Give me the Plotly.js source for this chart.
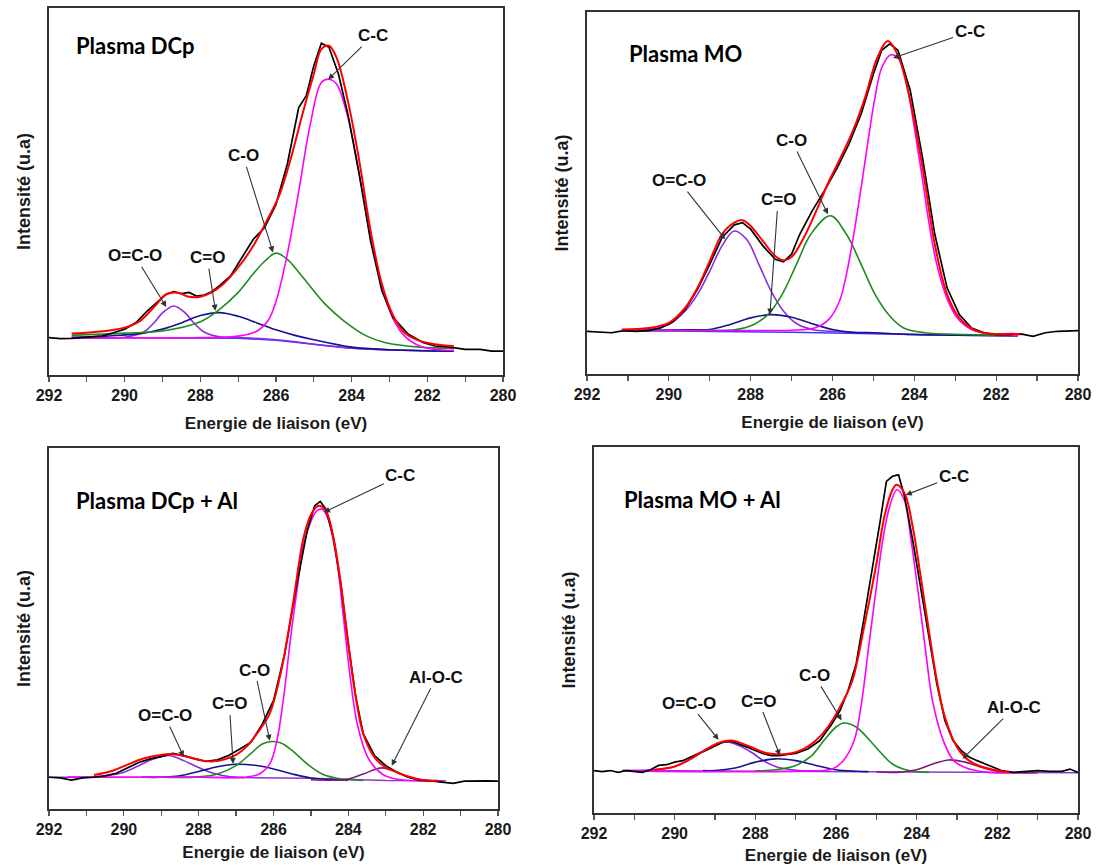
<!DOCTYPE html>
<html>
<head>
<meta charset="utf-8">
<script src="https://cdn.plot.ly/plotly-3.0.1.min.js"></script>
<style>html,body{margin:0;padding:0;background:#fff}#chart{width:1099px;height:865px}</style>
</head>
<body>
<div id="chart"></div>
<script>
// ---------- axis ----------
const tickVals = [292, 290, 288, 286, 284, 282, 280];
const tickText = ['292', '290', '288', '286', '284', '282', '280'];
const xTitle = 'Energie de liaison (eV)';
const yTitle = 'Intensité (u.a)';
const panelNames = ['Plasma DCp', 'Plasma MO', 'Plasma DCp + Al', 'Plasma MO + Al'];

// ---------- Panel 1 : Plasma DCp ----------
const dcp_raw_E = [292,291.7,291.4,291,290.6,290.3,290,289.7,289.4,289.1,288.9,288.7,288.5,288.3,288.1,287.9,287.7,287.5,287.2,286.9,286.6,286.3,286,285.7,285.4,285.2,285,284.8,284.6,284.35,284.1,283.8,283.5,283.2,282.9,282.5,282.1,281.8,281.4,281,280.6,280.3,280];
const dcp_raw_I = [10.2,9.9,10,10.4,10.6,11.5,12.5,14.3,17.5,20.2,22,22.7,22.2,22.5,21.5,21.8,22.7,24.3,27,32,37,40.2,46.5,57.5,72.9,76.1,84.3,90.4,89.3,82,71.1,54.7,36.5,22.9,15.6,11.1,8.8,7.9,7.6,7,7,6.5,6.5];
const dcp_env_E = [291.4,290.5,290,289.6,289.2,288.9,288.6,288.3,288,287.7,287.4,287,286.6,286.2,285.9,285.6,285.3,285,284.8,284.6,284.4,284.1,283.8,283.5,283.2,282.9,282.6,282.2,281.8,281.3];
const dcp_env_I = [11.3,12,12.9,14.7,18.8,22,22.4,21.3,21.3,22.5,24.7,29.3,35.2,42.9,49.3,59.3,71.1,82,88.8,89.7,86.5,74.7,58.4,39.3,24.7,16.1,11.5,9.3,8.4,7.9];
const dcp_CC_E = [291.4,288,287,286.5,286.2,286,285.7,285.4,285.1,284.8,284.6,284.4,284.1,283.8,283.5,283.2,282.9,282.6,282.2,281.8,281.3];
const dcp_CC_I = [10.2,10.2,10.6,12,15,20,33,50,68,79.7,80.6,79.3,70.2,54.7,38.4,23.8,15.2,10.6,7.9,7,6.7];
const dcp_CO_E = [291.4,290,289,288,287.5,287,286.6,286.3,286,285.7,285.4,285.1,284.7,284.2,283.6,283.1,282.2,281.3];
const dcp_CO_I = [10.8,11.4,12,14.5,17.8,22.5,27.6,31,33.2,31.5,28,24.2,19.3,14.7,10.6,8.8,7.6,7.3];
const dcp_CdO_E = [291.4,290.5,289.5,289,288.5,288,287.5,287,286.5,286,285.5,285,284,283,281.3];
const dcp_CdO_I = [10.2,10.6,11.4,12.5,14.2,16.2,17,16,14.2,12.3,10.8,9.6,7.6,6.9,6.5];
const dcp_OCO_E = [291.4,290,289.5,289.2,289,288.7,288.4,288.2,287.9,287.5,287,286,284,282,281.3];
const dcp_OCO_I = [10.2,10.3,11.7,14.5,16.9,18.8,16.9,14.5,11.7,10.4,10.2,9.6,7.3,6.6,6.5];
const dcp_bg_E = [291.4,289,287,286,285,284,283,282,281.3];
const dcp_bg_I = [10.2,10.2,10,9.5,8.4,7.3,6.8,6.6,6.5];

// ---------- Panel 2 : Plasma MO ----------
const mo_raw_E = [292,291.7,291.4,291.1,290.8,290.5,290.2,289.9,289.6,289.3,289,288.7,288.4,288.2,288,287.7,287.4,287.2,287,286.8,286.5,286.2,285.9,285.6,285.3,285,284.8,284.6,284.4,284.1,283.8,283.5,283.2,282.9,282.6,282.3,282,281.7,281.4,281.1,280.8,280.5,280.2,280];
const mo_raw_I = [11.8,11.6,11.4,12,11.8,12,12.7,14.4,17.8,23.4,30.3,37.7,41.2,41.8,40,35.4,31.7,31,33.1,38.6,45,50.6,56.6,63.5,71.8,82.9,89.4,91.2,89.4,78.3,59.8,38.6,23.8,16.4,12.7,11.4,10.9,10.9,11.1,10.4,11.4,11.8,11.8,12];
const mo_env_E = [291.15,290.5,290,289.6,289.3,289,288.7,288.4,288.2,288,287.7,287.4,287.2,287,286.7,286.4,286.1,285.8,285.5,285.2,284.9,284.65,284.4,284.1,283.8,283.5,283.2,282.9,282.5,282.1,281.6,281.4];
const mo_env_I = [12.3,12.7,14.1,18.3,23.8,31.2,38.6,41.8,42.5,40.9,36.7,32.6,31.4,32.3,37.7,45,52.9,59.8,67.2,76.5,87.5,92,88,75.5,57.1,35.8,22,15.5,12,11.1,11.1,10.9];
const mo_CC_E = [291.15,288,287,286.44,286.09,285.83,285.66,285.48,285.3,285.13,284.96,284.79,284.57,284.35,284.17,284,283.82,283.65,283.47,283.21,282.95,282.6,282.17,281.47];
const mo_CC_I = [12,12,12.1,12.7,15.1,20.1,27.5,38.6,51.5,64.5,76.5,84.8,88.2,86.6,79.2,68.1,55.2,42.3,31.2,21.1,15.5,12.3,11.1,10.6];
const mo_CO_E = [291.15,289,288.36,287.92,287.58,287.23,286.88,286.53,286.05,285.66,285.3,284.96,284.6,284.26,283.74,282.7,281.47];
const mo_CO_I = [12,12,12.3,13.7,16.4,22,30.3,38.6,43.7,38.6,30.3,22,16,12.7,11.4,10.9,10.6];
const mo_CdO_E = [291.15,289.5,289,288.5,288,287.5,287,286.5,286,285.5,285,284,281.47];
const mo_CdO_I = [12,12.2,12.3,13.7,15.5,16.4,15.7,13.9,12.3,11.5,11.4,10.9,10.6];
const mo_OCO_E = [291.15,290.5,290,289.6,289.3,289,288.7,288.4,288.1,287.8,287.5,287.2,286.9,286.5,286,284,281.47];
const mo_OCO_I = [12,12.3,13.7,17.4,22,28.4,35.4,39.5,37.2,30.3,22.9,17.4,14.1,12.3,11.8,10.9,10.6];
const mo_bg_E = [291.15,287,284,281.47];
const mo_bg_I = [12,11.5,10.9,10.6];

// ---------- Panel 3 : Plasma DCp + Al ----------
const dcpal_raw_E = [292,291.7,291.4,291.1,290.8,290.5,290.2,289.9,289.6,289.3,289,288.7,288.4,288.1,287.8,287.5,287.2,286.9,286.6,286.3,286,285.7,285.4,285.1,284.9,284.75,284.6,284.4,284.2,284,283.8,283.6,283.3,283,282.7,282.4,282.1,281.8,281.5,281.2,280.9,280.6,280.3,280];
const dcpal_raw_I = [8.8,8.6,8,8.6,8.8,9.2,9.9,11.5,12.9,13.9,14.5,15.4,14.8,13.9,13.2,13.6,14.8,16.6,18.5,23.5,30,43,61,77.1,84,85.2,83.1,75.3,62.3,45.7,30.9,20.8,14.8,12,10.2,8.8,8,7.8,7.4,7.1,7.7,7.8,7.8,7.7];
const dcpal_env_E = [290.8,290.3,289.9,289.5,289.1,288.7,288.3,287.9,287.6,287.3,287,286.7,286.4,286.1,285.8,285.5,285.2,285,284.8,284.6,284.4,284.2,284,283.8,283.6,283.3,283,282.7,282.4,282,281.6];
const dcpal_env_I = [9.4,10.6,12.3,13.9,14.8,15.2,14.5,13.4,13.2,13.8,15,17.5,21.5,26.5,38,55.5,75,81.5,84,82.6,75.3,62.3,45.7,30.9,20.8,14.3,11.5,10.2,9,8,7.8];
const dcpal_CC_E = [291.5,288,286.76,286.38,286.1,285.91,285.73,285.54,285.35,285.17,284.84,284.7,284.56,284.32,284.13,283.95,283.76,283.48,283.1,282.73,282.07,281.5];
const dcpal_CC_I = [8.8,8.8,8.8,9.7,12.5,18.9,30.9,47.6,62.3,74.3,82.6,83,80.8,69.7,53.1,36.5,23.5,14.3,9.7,8.3,7.8,7.8];
const dcpal_CO_E = [289,288,287.5,287,286.6,286.3,286.05,285.8,285.5,285.1,284.7,284.3,283.6];
const dcpal_CO_I = [8.8,8.9,9.7,12,15.4,18,18.7,18.3,16.2,12.5,9.7,8.5,7.9];
const dcpal_CdO_E = [289.5,289,288.5,288,287.5,287,286.5,286,285.5,285,284.5,284];
const dcpal_CdO_I = [8.8,8.8,9.2,10.4,11.7,12.4,12.1,11.1,9.7,8.6,8.2,8];
const dcpal_OCO_E = [291.5,291,290.5,290,289.6,289.2,288.8,288.4,288,287.6,287.2,286.8];
const dcpal_OCO_I = [8.8,8.8,9.2,10.2,12,13.9,14.8,13.4,11.5,9.9,9,8.8];
const dcpal_AlOC_E = [285,284.3,284,283.6,283.1,282.6,282.2,281.6];
const dcpal_AlOC_I = [8.1,8,8.3,9.7,11.4,9.7,8.3,7.8];
const dcpal_bg_E = [292,288,285,283,281.4];
const dcpal_bg_I = [8.8,8.8,8.5,7.9,7.8];

// ---------- Panel 4 : Plasma MO + Al ----------
const moal_raw_E = [292,291.8,291.6,291.4,291.2,291,290.8,290.6,290.4,290.2,290,289.8,289.6,289.4,289.2,289,288.8,288.6,288.4,288.2,288,287.8,287.6,287.4,287.2,287,286.7,286.4,286.1,285.9,285.7,285.5,285.3,285.1,284.9,284.75,284.6,284.45,284.3,284.1,283.9,283.7,283.5,283.3,283.1,282.9,282.7,282.5,282.3,282.1,281.9,281.6,281.3,281,280.7,280.4,280.2,280];
const moal_raw_I = [11.6,11.3,11.6,11.1,11.6,11.4,11.1,11.8,13,13.2,13.9,14.3,15.4,16.3,17.2,18.4,19.4,19.6,18.9,18,17.1,16.2,15.7,15.7,16,16.3,17.5,19.8,24.4,28,33.5,40.8,53.6,66.4,80.1,90.6,92,92.4,86.5,74.6,61.8,48.1,35.3,25.3,19.8,17.1,15.3,14.3,13.4,12.3,11.6,11.1,11.4,11.6,11.4,11.4,12,11.1];
const moal_env_E = [290.5,290,289.6,289.2,288.9,288.6,288.3,288,287.7,287.4,287.1,286.8,286.5,286.2,285.9,285.6,285.3,285,284.8,284.6,284.5,284.3,284.1,283.9,283.7,283.5,283.3,283,282.7,282.4,282,281.7];
const moal_env_I = [11.8,12.7,14.8,17.5,19.2,19.8,18.9,17.5,16.3,16,16.3,17.5,19.8,23.5,29,36,51,68,81,88.3,89.7,87.4,78.3,64.6,50,36.3,26.2,18,14.3,12.7,11.6,11.1];
const moal_CC_E = [291.3,287,286.08,285.82,285.55,285.37,285.2,285.02,284.84,284.67,284.49,284.31,284.14,283.96,283.78,283.61,283.34,283.08,282.72,282.2,281.5];
const moal_CC_I = [11.5,11.4,12.1,14.3,19.8,29.9,44.5,60,74.6,83.7,88.3,85.6,74.6,60,44.5,30.8,19.8,14.3,12.1,11.1,11];
const moal_CO_E = [288,287.5,287,286.6,286.3,286,285.8,285.5,285.2,284.9,284.6,284.2,283.7];
const moal_CO_I = [11.5,11.8,13,15.7,19.8,23.5,24.6,23.5,20.3,16.6,13.4,11.6,11.1];
const moal_CdO_E = [289.3,289,288.5,288,287.5,287,286.5,286,285.5,285.2];
const moal_CdO_I = [11.6,11.6,12.3,13.9,14.8,14.3,13,11.8,11.4,11.3];
const moal_OCO_E = [291.3,290.5,290,289.6,289.2,288.9,288.7,288.4,288.1,287.8,287.5,287.1,286.7,286.3];
const moal_OCO_I = [11.6,11.8,12.7,14.8,17.5,18.9,19.4,18.4,16.6,14.3,12.7,11.8,11.5,11.5];
const moal_AlOC_E = [285,284.5,284,283.6,283.2,282.8,282.4,282,281.5,281];
const moal_AlOC_I = [11.2,11.1,11.8,13.4,14.5,13.9,12.5,11.4,11,11];
const moal_bg_E = [291.3,286,283,280];
const moal_bg_I = [11.6,11.4,11.1,11.0];

// ---------- styles ----------
const C = {raw:'#000000', env:'#ff0000', CC:'#ff00ff', CO:'#1e8c1e', CdO:'#14148c', OCO:'#8a2be2', AlOC:'#7a1a7a', bg:'#3a3aff', bgAl:'#8a3ad0'};

const traces = [];
function add(E, I, color, width, ax, shape) {
  traces.push({type:'scatter', mode:'lines', x:E, y:I, xaxis:'x'+ax, yaxis:'y'+ax,
    line:{color:color, width:width, shape:shape||'spline', smoothing:1}, hoverinfo:'skip', showlegend:false});
}
function addPanel(ax, d) {
  add(d.bgE, d.bgI, d.bgC, 1.5, ax, 'linear');
  add(d.OCO[0], d.OCO[1], C.OCO, 1.6, ax);
  add(d.CdO[0], d.CdO[1], C.CdO, 1.6, ax);
  add(d.CO[0], d.CO[1], C.CO, 1.6, ax);
  if (d.AlOC) add(d.AlOC[0], d.AlOC[1], C.AlOC, 1.6, ax);
  add(d.CC[0], d.CC[1], C.CC, 1.6, ax);
  add(d.raw[0], d.raw[1], C.raw, 1.7, ax, 'linear');
  add(d.env[0], d.env[1], C.env, 2, ax);
}
addPanel('', {bgE:dcp_bg_E, bgI:dcp_bg_I, bgC:C.bg, OCO:[dcp_OCO_E,dcp_OCO_I], CdO:[dcp_CdO_E,dcp_CdO_I], CO:[dcp_CO_E,dcp_CO_I], CC:[dcp_CC_E,dcp_CC_I], raw:[dcp_raw_E,dcp_raw_I], env:[dcp_env_E,dcp_env_I]});
addPanel('2', {bgE:mo_bg_E, bgI:mo_bg_I, bgC:C.bg, OCO:[mo_OCO_E,mo_OCO_I], CdO:[mo_CdO_E,mo_CdO_I], CO:[mo_CO_E,mo_CO_I], CC:[mo_CC_E,mo_CC_I], raw:[mo_raw_E,mo_raw_I], env:[mo_env_E,mo_env_I]});
addPanel('3', {bgE:dcpal_bg_E, bgI:dcpal_bg_I, bgC:C.bgAl, OCO:[dcpal_OCO_E,dcpal_OCO_I], CdO:[dcpal_CdO_E,dcpal_CdO_I], CO:[dcpal_CO_E,dcpal_CO_I], AlOC:[dcpal_AlOC_E,dcpal_AlOC_I], CC:[dcpal_CC_E,dcpal_CC_I], raw:[dcpal_raw_E,dcpal_raw_I], env:[dcpal_env_E,dcpal_env_I]});
addPanel('4', {bgE:moal_bg_E, bgI:moal_bg_I, bgC:C.bgAl, OCO:[moal_OCO_E,moal_OCO_I], CdO:[moal_CdO_E,moal_CdO_I], CO:[moal_CO_E,moal_CO_I], AlOC:[moal_AlOC_E,moal_AlOC_I], CC:[moal_CC_E,moal_CC_I], raw:[moal_raw_E,moal_raw_I], env:[moal_env_E,moal_env_I]});

const W = 1099, H = 865;
const boxes = [ // pixel boxes [left, right, top, bottom]
  [49, 503, 8, 375], [587, 1078, 12, 374], [49, 498, 448, 809], [594, 1078, 447, 813]
];
const titleStandoff = [14, 14, 9, 8];
const axFont = {family:'Liberation Sans, Arial, sans-serif', size:16, color:'#1a1a1a', weight:'bold'};
const xTitleFont = {family:'Liberation Sans, Arial, sans-serif', size:17, color:'#1a1a1a', weight:'bold'};
const yTitleFont = {family:'Liberation Sans, Arial, sans-serif', size:18, color:'#1a1a1a', weight:'bold'};

const layout = {
  width:W, height:H, margin:{l:0, r:0, t:0, b:0},
  paper_bgcolor:'#ffffff', plot_bgcolor:'#ffffff', showlegend:false,
  annotations:[]
};
boxes.forEach((b, i) => {
  const s = i === 0 ? '' : String(i+1);
  layout['xaxis'+s] = {
    domain:[b[0]/W, b[1]/W], anchor:'y'+s, range:[292, 280], autorange:false,
    tickmode:'array', tickvals:tickVals, ticktext:tickText, ticks:'outside', ticklen:5, tickwidth:1.2, tickcolor:'#555',
    minor:{dtick:1, tick0:280, ticks:'outside', ticklen:5, tickwidth:1.2, tickcolor:'#555'},
    showline:true, linecolor:'#333', linewidth:2, mirror:true, showgrid:false, zeroline:false,
    tickfont:axFont, title:{text:xTitle, font:xTitleFont, standoff:titleStandoff[i]}
  };
  layout['yaxis'+s] = {
    domain:[1-b[3]/H, 1-b[2]/H], anchor:'x'+s, range:[0, 100], autorange:false,
    showticklabels:false, ticks:'', showline:true, linecolor:'#333', linewidth:2, mirror:true,
    showgrid:false, zeroline:false, title:{text:yTitle, font:yTitleFont, standoff:12}
  };
});

// labels
const panelLabelPos = [[291.35, 89.7], [291.02, 88.6], [291.33, 85.4], [291.31, 85.6]];
const peakNames = ['C-C', 'C-O', 'C=O', 'O=C-O', 'Al-O-C'];
// [name index, label E, label I, head E, head I]
const peakLabels = [
  [[0,283.44,92.5,284.62,80.5],[1,286.87,59.7,286.08,33.4],[2,287.82,32,287.6,17.5],[3,289.73,32.5,288.9,18.5]],
  [[0,282.65,94.5,284.52,87.3],[1,287.0,64.5,286.11,44.1],[2,287.33,48.1,287.53,16.4],[3,289.76,53.4,288.62,37.2]],
  [[0,282.61,92.3,284.65,82.2],[1,286.5,38.5,286.1,18.9],[2,287.18,29.1,287.08,12.5],[3,288.91,25.9,288.4,14.5],[4,281.65,36.5,282.84,12]],
  [[0,283.08,92,284.27,86.9],[1,286.54,37.6,285.86,25.3],[2,287.92,30.6,287.39,15.7],[3,289.64,30,288.91,20],[4,281.58,28.8,282.86,14.8]]
];
panelNames.forEach((name, i) => {
  const s = i === 0 ? '' : String(i+1);
  layout.annotations.push({xref:'x'+s, yref:'y'+s, x:panelLabelPos[i][0], y:panelLabelPos[i][1],
    text:'<b>'+name+'</b>', showarrow:false, xanchor:'left', yanchor:'middle',
    font:{family:'Lato, Noto Sans, sans-serif', size:22, color:'#000'}});
  peakLabels[i].forEach(p => {
    layout.annotations.push({xref:'x'+s, yref:'y'+s, axref:'x'+s, ayref:'y'+s,
      x:p[3], y:p[4], ax:p[1], ay:p[2], text:'<b>'+peakNames[p[0]]+'</b>',
      showarrow:true, arrowhead:2, arrowsize:1.1, arrowwidth:1.1, arrowcolor:'#333',
      font:{family:'Liberation Sans, Arial, sans-serif', size:17, color:'#111'}});
  });
});

Plotly.newPlot('chart', traces, layout, {staticPlot:true, displayModeBar:false});
</script>
</body>
</html>
